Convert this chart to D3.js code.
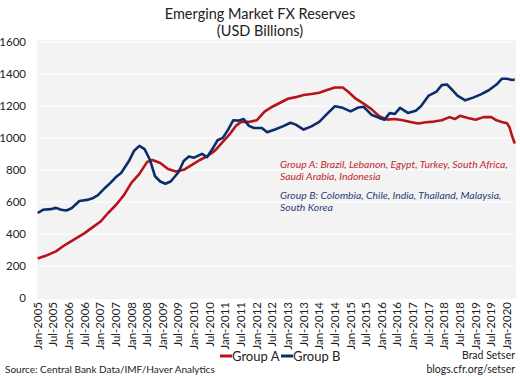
<!DOCTYPE html>
<html><head><meta charset="utf-8">
<script src="https://cdn.jsdelivr.net/npm/d3@7/dist/d3.min.js"></script>
<style>
body{margin:0;background:#fff;}
text{font-family:Lato,"Open Sans",sans-serif;}
</style></head>
<body><svg id="c" width="520" height="376"></svg>
<script>
// Month offsets from Jan-2005 and values (USD bn)
const groupAMonths = [0,3,7,10,12,15,18,21,24,27,30,33,36,39,42,44,47,50,53,56,59,62,65,68,71,74,76,78,81,84,87,90,93,96,99,102,105,108,111,114,117,119,122,125,128,131,134,137,140,143,146,149,152,155,158,160,162,165,168,171,174,176,178,180,181,182,183];
const groupAValues = [245,262,290,325,345,375,404,440,475,530,580,640,720,775,850,862,843,805,790,800,830,860,885,920,975,1030,1075,1100,1100,1110,1165,1195,1220,1245,1255,1268,1275,1282,1300,1315,1315,1290,1245,1215,1180,1135,1114,1118,1110,1100,1090,1098,1102,1110,1130,1118,1138,1125,1114,1130,1130,1110,1100,1092,1065,1010,965];
const groupBMonths = [0,2,5,7,9,11,13,16,19,21,23,26,28,30,32,35,37,39,41,43,45,47,49,51,54,56,58,60,63,65,67,69,71,73,75,77,79,81,83,86,88,91,94,97,99,102,105,108,111,114,117,120,123,125,128,131,133,135,137,139,142,145,147,150,153,155,157,159,161,164,167,170,173,176,178,180,182,183];
const groupBValues = [530,550,554,562,550,546,560,605,612,622,640,690,720,755,780,855,920,950,930,865,760,727,713,727,785,855,884,876,900,880,930,985,1000,1050,1110,1108,1118,1075,1062,1062,1035,1052,1072,1095,1083,1052,1072,1100,1150,1198,1188,1166,1190,1195,1145,1125,1114,1155,1150,1188,1156,1170,1198,1265,1290,1330,1334,1300,1265,1235,1252,1272,1298,1334,1370,1370,1362,1365];
const yTicks = [0,200,400,600,800,1000,1200,1400,1600];
const xTickLabels = [];
for (let y = 2005; y <= 2020; y++) { xTickLabels.push("Jan-" + y); if (y < 2020) xTickLabels.push("Jul-" + y); }

const svg = d3.select("#c");
const x0 = 37.7, x1 = 37.7 + 183 * 2.607;
const x = d3.scaleLinear().domain([0, 183]).range([x0, x1]);
const y = d3.scaleLinear().domain([0, 1600]).range([297.7, 42]);

// plot background
svg.append("rect").attr("x", 37).attr("y", 40).attr("width", 479).attr("height", 259).attr("fill", "#f3f3f3");
// gridlines
svg.append("g").selectAll("line").data(yTicks.slice(1)).join("line")
  .attr("x1", 37).attr("x2", 516).attr("y1", d => y(d)).attr("y2", d => y(d))
  .attr("stroke", "#fbfbfb").attr("stroke-width", 1.5);

// y axis labels
const yAxis = d3.axisLeft(y).tickValues(yTicks).tickSize(0).tickPadding(0).tickFormat(d3.format("d"));
const gy = svg.append("g").attr("transform", "translate(26,0)").call(yAxis);
gy.select(".domain").remove();
gy.selectAll("text").attr("font-size", 11.5).attr("fill", "#222").attr("font-family", "Lato");

// x axis labels
const xt = svg.append("g");
xt.selectAll("text").data(xTickLabels).join("text")
  .attr("transform", (d, i) => `translate(${x(i * 6) + 4},302) rotate(-90)`)
  .attr("text-anchor", "end").attr("font-size", 11.5).attr("fill", "#222").text(d => d);

const line = d3.line().x(d => x(d[0])).y(d => y(d[1])).curve(d3.curveLinear);
const dataA = groupAMonths.map((m, i) => [m, groupAValues[i]]);
const dataB = groupBMonths.map((m, i) => [m, groupBValues[i]]);
svg.append("path").datum(dataA).attr("d", line).attr("fill", "none").attr("stroke", "#b8121b").attr("stroke-width", 2.6).attr("stroke-linejoin", "round");
svg.append("path").datum(dataB).attr("d", line).attr("fill", "none").attr("stroke", "#0c2d6b").attr("stroke-width", 2.6).attr("stroke-linejoin", "round");

// title
svg.append("text").attr("x", 260).attr("y", 19).attr("text-anchor", "middle").attr("font-size", 14.5).attr("fill", "#222").text("Emerging Market FX Reserves");
svg.append("text").attr("x", 260).attr("y", 36).attr("text-anchor", "middle").attr("font-size", 14.5).attr("fill", "#222").text("(USD Billions)");

// annotations
const ann = [
  {t: "Group A: Brazil, Lebanon, Egypt, Turkey, South Africa,", y: 168, c: "#c0282d"},
  {t: "Saudi Arabia, Indonesia", y: 180, c: "#c0282d"},
  {t: "Group B: Colombia, Chile, India, Thailand, Malaysia,", y: 199, c: "#2c3c78"},
  {t: "South Korea", y: 211, c: "#2c3c78"}
];
svg.append("g").selectAll("text").data(ann).join("text")
  .attr("x", 280).attr("y", d => d.y).attr("font-size", 10.4).attr("font-style", "italic").attr("fill", d => d.c).text(d => d.t);

// legend
const leg = [{n: "Group A", c: "#b8121b", x: 220}, {n: "Group B", c: "#0c2d6b", x: 281}];
const lg = svg.append("g").selectAll("g").data(leg).join("g").attr("transform", d => `translate(${d.x},0)`);
lg.append("line").attr("x1", 0).attr("x2", 12).attr("y1", 356).attr("y2", 356).attr("stroke", d => d.c).attr("stroke-width", 3);
lg.append("text").attr("x", 12).attr("y", 361).attr("font-size", 13).attr("fill", "#222").text(d => d.n);

// source & credit
svg.append("text").attr("x", 5).attr("y", 373).attr("font-size", 10).attr("fill", "#222").text("Source: Central Bank Data/IMF/Haver Analytics");
svg.append("text").attr("x", 515).attr("y", 359).attr("text-anchor", "end").attr("font-size", 10.5).attr("fill", "#222").text("Brad Setser");
svg.append("text").attr("x", 515).attr("y", 373).attr("text-anchor", "end").attr("font-size", 10.5).attr("fill", "#222").text("blogs.cfr.org/setser");
</script></body></html>
